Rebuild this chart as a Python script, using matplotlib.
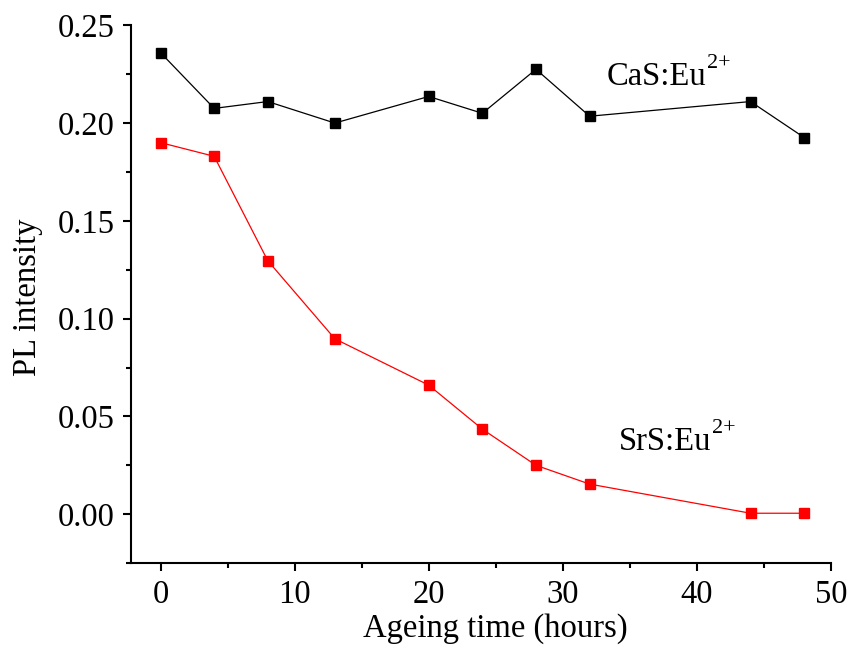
import matplotlib
matplotlib.use('Agg')
import matplotlib.pyplot as plt
from matplotlib.ticker import MultipleLocator

# tiempo de envejecimiento (horas) e intensidad PL de cada fosforo
horas = [0, 4, 8, 13, 20, 24, 28, 32, 44, 48]
cas_eu = [0.236, 0.2075, 0.211, 0.200, 0.2136, 0.205, 0.2275, 0.2035, 0.211, 0.1926]
srs_eu = [0.190, 0.183, 0.1296, 0.0897, 0.066, 0.0435, 0.025, 0.0154, 0.0005, 0.0005]

plt.rcParams['font.family'] = ['Liberation Serif', 'DejaVu Serif']
fs = 23.5

fig = plt.figure(figsize=(8.53, 6.48), dpi=100)
ax = fig.add_axes([0.1536, 0.131, 0.8206, 0.830])

ax.plot(horas, cas_eu, color='black', lw=0.9, marker='s', ms=7.5,
        markeredgecolor='black', markerfacecolor='black')
ax.plot(horas, srs_eu, color='red', lw=0.9, marker='s', ms=7.5,
        markeredgecolor='red', markerfacecolor='red')

# etiquetas de cada serie con superindice
for x, y, nombre in [(33.3, 0.2235, 'CaS:Eu'), (34.2, 0.037, 'SrS:Eu')]:
    t = ax.text(x, y, nombre, fontsize=fs, va='center', ha='left')
    ax.annotate('2+', xy=(1, 0.62), xycoords=t, fontsize=fs * 0.68,
                va='bottom', ha='left')

ax.set_xlim(-2.2, 50)
ax.set_ylim(-0.025, 0.25)
ax.xaxis.set_major_locator(MultipleLocator(10))
ax.xaxis.set_minor_locator(MultipleLocator(5))
ax.yaxis.set_major_locator(MultipleLocator(0.05))
ax.yaxis.set_minor_locator(MultipleLocator(0.025))
ax.yaxis.set_major_formatter(plt.FuncFormatter(lambda v, p: '%.2f' % v))

ax.spines['top'].set_visible(False)
ax.spines['right'].set_visible(False)
for s in ['left', 'bottom']:
    ax.spines[s].set_linewidth(1.5)
ax.tick_params(which='major', direction='out', length=6, width=1.5,
               labelsize=fs, pad=6)
ax.tick_params(which='minor', direction='out', length=3.5, width=1.5)

ax.set_xlabel('Ageing time (hours)', fontsize=fs)
ax.set_ylabel('PL intensity', fontsize=fs)
ax.xaxis.set_label_coords(0.521, -0.093)
ax.yaxis.set_label_coords(-0.126, 0.495)

fig.savefig('out.png', dpi=100)
